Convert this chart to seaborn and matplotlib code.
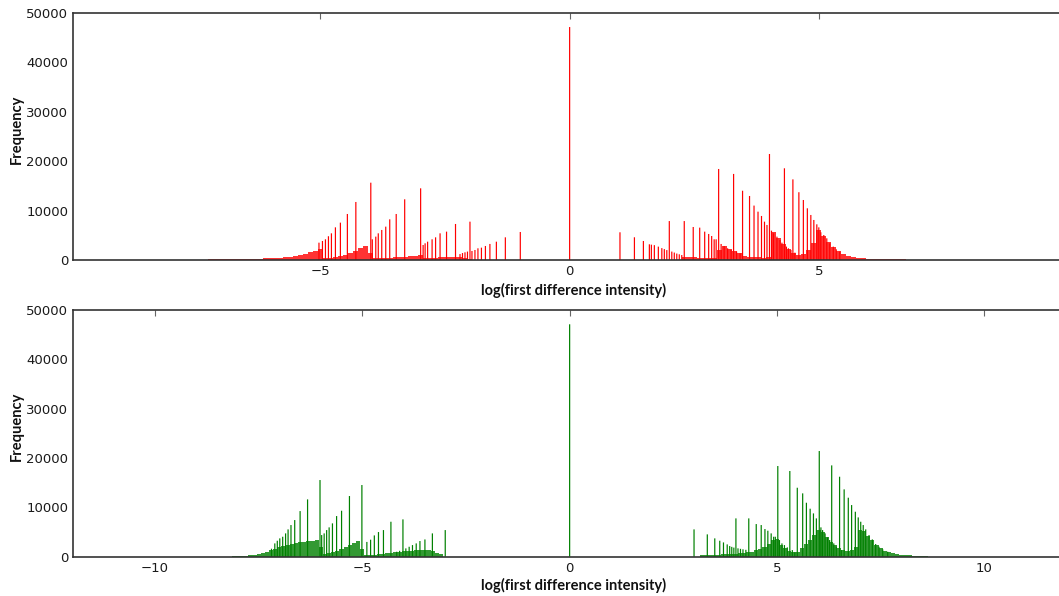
import numpy as np
import matplotlib
matplotlib.use("Agg")
import matplotlib.pyplot as plt
import seaborn as sns

# ---------------- top panel (red) ----------------
top_spike_x = [-5.03, -4.96, -4.90, -4.84, -4.78, -4.70, -4.60, -4.46, -4.29,
               -3.99,
               -3.96, -3.89, -3.84, -3.77, -3.69, -3.61, -3.48, -3.31, -2.99,
               -2.94, -2.90, -2.85, -2.76, -2.69, -2.60, -2.47, -2.29,
               -2.20, -2.15, -2.10, -2.05, -2.00, -1.96, -1.90, -1.84, -1.77,
               -1.69, -1.60, -1.47, -1.29, -0.99,
               0.0,
               1.01, 1.30, 1.48, 1.60, 1.64, 1.70, 1.78, 1.85, 1.90, 1.95,
               2.00, 2.05, 2.10, 2.15, 2.20, 2.25, 2.30, 2.48, 2.61, 2.71,
               2.79, 2.85, 2.90, 2.94, 2.99, 3.04, 3.10, 3.17, 3.24, 3.29,
               3.35, 3.42, 3.47, 3.61, 3.70, 3.78, 3.85, 3.91, 3.96, 4.01,
               4.05, 4.09, 4.16, 4.22, 4.26, 4.31, 4.35, 4.39, 4.44, 4.48,
               4.52, 4.60, 4.69, 4.77, 4.84, 4.90, 4.96, 5.00, 5.04, 5.10,
               5.16, 5.22, 5.29, 5.35, 5.42]
top_spike_h = [3500, 3840, 4180, 4800, 5390, 6600, 7550, 9300, 11730,
               15630,
               4180, 4720, 5390, 6070, 6740, 8220, 9300, 12270, 14490,
               3030, 3370, 3700, 4180, 4580, 5390, 5730, 7280,
               1200, 1400, 1550, 1700, 7750, 1820, 2020, 2360, 2490,
               2830, 3240, 3700, 4580, 5660,
               47100,
               5600, 4590, 3840, 3170, 3100, 3000, 2700, 2400, 2200, 2000,
               7870, 1700, 1500, 1300, 1150, 1000, 7870, 6670, 6540, 5730,
               5260, 4850, 4180, 4180, 18400, 3240, 2830, 2360, 2020, 17400,
               1700, 1350, 14000, 12940, 11000, 9770, 8900, 7750, 7080, 21430,
               5930, 5390, 4720, 4040, 3500, 18540, 2700, 2360, 2020, 16300,
               1480, 13700, 12130, 10450, 9100, 8090, 7210, 6600, 5600, 5050,
               4380, 3370, 2700, 2160, 1690]

top_bg_x = ([round(-7.6 + 0.1 * i, 1) for i in range(27)]
            + [round(-4.9 + 0.1 * i, 1) for i in range(10)]
            + [round(-3.9 + 0.1 * i, 1) for i in range(10)]
            + [round(-2.9 + 0.1 * i, 1) for i in range(10)]
            + [round(2.3 + 0.1 * i, 1) for i in range(7)]
            + [round(3.0 + 0.1 * i, 1) for i in range(10)]
            + [round(4.0 + 0.1 * i, 1) for i in range(10)]
            + [round(5.0 + 0.1 * i, 1) for i in range(28)])
top_bg_h = ([60, 70, 80, 90, 100, 110, 120, 130, 140, 160, 180, 200, 220, 250,
             280, 320, 360, 420, 480, 560, 680, 820, 1000, 1250, 1550, 1900, 2200]
            + [400, 500, 650, 850, 1100, 1450, 1900, 2400, 2900, 1500]
            + [350, 400, 450, 500, 560, 620, 700, 780, 860, 950]
            + [350, 400, 450, 520, 600, 650, 700, 600, 400, 250]
            + [700, 620, 560, 500, 450, 420, 380]
            + [2000, 2800, 2300, 1900, 1400, 900, 700, 600, 550, 500]
            + [600, 5600, 4400, 3200, 2300, 1500, 1000, 1300, 2000, 3500]
            + [6000, 4800, 3600, 2600, 1900, 1300, 900, 650, 480, 360, 280, 230,
               190, 160, 140, 120, 110, 100, 90, 85, 80, 75, 70, 65, 60, 55, 50, 45])

# ---------------- bottom panel (green) ----------------
bot_spike_x = [-7.19, -7.11, -7.05, -6.99, -6.92, -6.85, -6.79, -6.72, -6.63,
               -6.50, -6.32, -6.02,
               -5.98, -5.92, -5.86, -5.80, -5.72, -5.62, -5.50, -5.31, -5.01,
               -4.89, -4.80, -4.71, -4.61, -4.49, -4.31, -4.17, -4.10, -4.02,
               -3.95, -3.87, -3.79, -3.70, -3.61, -3.49, -3.31, -3.00,
               0.0,
               3.00, 3.32, 3.50, 3.62, 3.71, 3.80, 3.86, 3.91, 3.96, 4.01,
               4.06, 4.12, 4.18, 4.25, 4.32, 4.50, 4.62, 4.71, 4.78, 4.86,
               4.92, 4.96, 5.02, 5.06, 5.12, 5.18, 5.25, 5.31, 5.37, 5.43,
               5.49, 5.62, 5.71, 5.80, 5.88, 5.95, 6.02, 6.06, 6.10, 6.16,
               6.22, 6.27, 6.32, 6.37, 6.43, 6.51, 6.55, 6.62, 6.72, 6.80,
               6.89, 6.96, 7.02, 7.08, 7.14, 7.22, 7.30, 7.38, 7.46, 7.55, 7.67]
bot_spike_h = [1620, 2700, 3240, 3720, 4050, 4730, 5540, 6420, 7430,
               9250, 11620, 15540,
               4390, 4730, 5400, 5950, 6760, 8240, 9320, 12300, 14530,
               3000, 3450, 4320, 5000, 5400, 7090, 1010, 1200, 7570,
               1690, 2020, 2360, 2700, 3180, 3500, 4730, 5400,
               47100,
               5540, 4530, 3720, 3240, 2900, 2500, 2160, 2000, 1850, 7770,
               1700, 1600, 1500, 1400, 7770, 6620, 6420, 5610, 5270, 4730,
               4050, 4050, 18380, 3380, 2700, 2360, 1890, 17370, 1350, 880,
               13980, 12840, 10940, 9730, 8780, 7770, 21420, 5950, 5400, 4730,
               3920, 3380, 18510, 2700, 2030, 16210, 1350, 13650, 11960, 10470,
               9120, 7970, 7090, 6420, 5540, 4390, 3510, 2570, 2030, 1490, 1010]

bot_bg_x = ([round(-8.2 + 0.1 * i, 1) for i in range(23)]
            + [round(-5.9 + 0.1 * i, 1) for i in range(10)]
            + [round(-4.9 + 0.1 * i, 1) for i in range(19)]
            + [round(3.2 + 0.1 * i, 1) for i in range(8)]
            + [round(4.0 + 0.1 * i, 1) for i in range(11)]
            + [round(5.1 + 0.1 * i, 1) for i in range(10)]
            + [round(6.1 + 0.1 * i, 1) for i in range(26)])
bot_bg_h = ([40, 60, 90, 130, 190, 270, 380, 560, 780, 1050, 1300, 1600, 1900,
             2150, 2400, 2600, 2750, 2900, 3000, 3100, 3200, 3300, 2000]
            + [500, 700, 900, 1200, 1600, 2000, 2400, 2800, 3100, 1500]
            + [350, 400, 450, 520, 600, 700, 800, 900, 1000, 1100, 1200, 1250,
               1300, 1350, 1400, 1300, 1100, 800, 500]
            + [250, 300, 350, 400, 450, 500, 550, 600]
            + [650, 700, 800, 900, 1050, 1300, 1600, 2000, 2600, 3300, 3500]
            + [2400, 1700, 1200, 900, 1000, 1800, 2600, 3400, 4500, 5500]
            + [5000, 3900, 3000, 2300, 1700, 1300, 1200, 1400, 2000, 5500,
               5200, 4300, 3300, 2400, 1800, 1250, 900, 700, 550, 420, 320,
               250, 180, 130, 90, 60])

y_ticks = [0, 10000, 20000, 30000, 40000, 50000]
top_xticks = [-5, 0, 5]
bot_xticks = [-10, -5, 0, 5, 10]
x_label = "log(first difference intensity)"
y_label = "Frequency"

sns.set_theme(style="white")
plt.rcParams["font.family"] = ["DejaVu Sans"]

fig = plt.figure(figsize=(10.59, 5.96), dpi=100)
ax_top = fig.add_axes([0.0692, 0.5638, 0.9374, 0.4149])
ax_bot = fig.add_axes([0.0692, 0.0659, 0.9374, 0.4140])


def spike_edges(xs, width):
    xs = np.asarray(sorted(xs), dtype=float)
    return np.column_stack([xs - width / 2, xs + width / 2]).ravel().tolist()


def draw_panel(ax, sx, sh, bx, bh, color, spike_w, xlim, xticks, label_y):
    # dense background of the histogram, one 0.1-wide bin per value
    sns.histplot(x=bx, weights=bh, binwidth=0.1, binrange=(-12.05, 12.05),
                 color=color, alpha=0.8, edgecolor="none", linewidth=0,
                 ax=ax)
    # narrow bins holding the isolated high counts
    sns.histplot(x=sx, weights=sh, bins=spike_edges(sx, spike_w),
                 color=color, alpha=1.0, edgecolor="none", linewidth=0,
                 snap=False, antialiased=True, ax=ax)
    ax.set_xlim(*xlim)
    ax.set_ylim(0, 50000)
    ax.set_xticks(xticks)
    ax.set_yticks(y_ticks)
    ax.tick_params(axis="both", which="both", direction="in", top=True,
                   right=True, length=4, width=0.8, color="#666666",
                   labelsize=9.5, labelcolor="#1a1a1a")
    for sp in ax.spines.values():
        sp.set_color("#333333")
        sp.set_linewidth(1.2)
        sp.set_visible(True)
    ax.set_ylabel(y_label, fontfamily="Lato", fontweight="bold", fontsize=10.5,
                  color="#111111")
    ax.yaxis.set_label_coords(-0.0497, 0.53)
    ax.set_xlabel(x_label, fontfamily="Lato", fontweight="bold", fontsize=10.5,
                  color="#111111", va="top")
    ax.xaxis.set_label_coords(0.504, label_y)
    ax.grid(False)


draw_panel(ax_top, top_spike_x, top_spike_h, top_bg_x, top_bg_h, "#ff0000",
           0.024, (-9.96, 9.96), top_xticks, -0.093)
draw_panel(ax_bot, bot_spike_x, bot_spike_h, bot_bg_x, bot_bg_h, "#008000",
           0.029, (-11.97, 11.97), bot_xticks, -0.085)

fig.savefig("out.png", dpi=100)
